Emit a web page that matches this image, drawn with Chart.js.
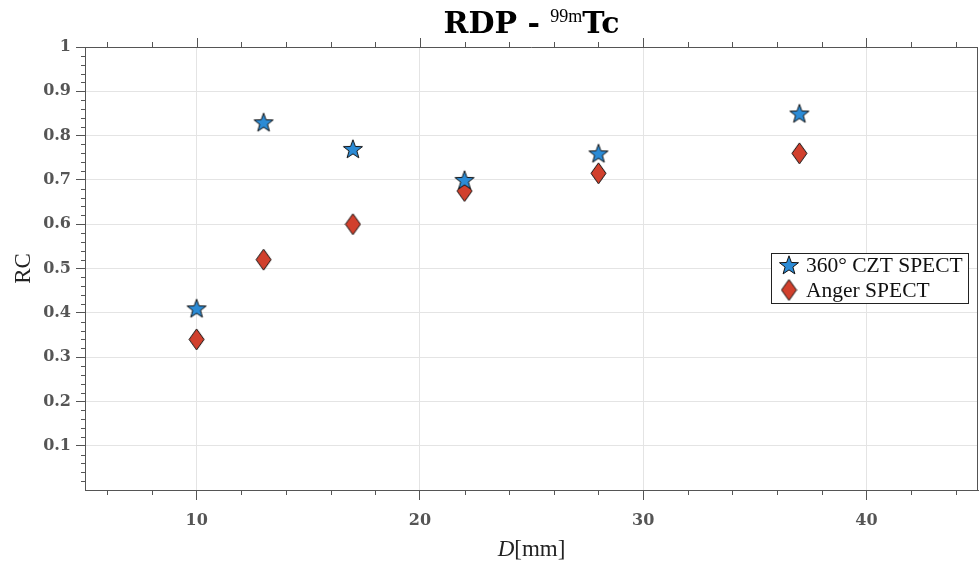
<!DOCTYPE html>
<html>
<head>
<meta charset="utf-8">
<script src="https://cdn.jsdelivr.net/npm/chart.js@4"></script>
<style>
  html, body { margin: 0; padding: 0; background: #fff; }
  canvas { display: block; }
</style>
</head>
<body>
<canvas id="rcChart" width="979" height="562"></canvas>
<script>
'use strict';

// Data
const diameters = [10, 13, 17, 22, 28, 37];          // D [mm]
const cztRC     = [0.41, 0.83, 0.77, 0.70, 0.76, 0.85];
const angerRC   = [0.34, 0.52, 0.60, 0.675, 0.715, 0.76];
const seriesNames = ['360\u00B0 CZT SPECT', 'Anger SPECT'];
const xTicks = [10, 20, 30, 40];
const yTicks = [0.1, 0.2, 0.3, 0.4, 0.5, 0.6, 0.7, 0.8, 0.9, 1];

const AXIS = '#555555';
const GRID = '#e4e4e4';
const BLUE = '#2b8bd6';
const RED  = '#d1402d';

// marker images
function starMarker() {
  const c = document.createElement('canvas');
  c.width = 22; c.height = 22;
  const g = c.getContext('2d');
  const cx = 11, cy = 11.8, ro = 10, ri = 4.1;
  g.beginPath();
  for (let i = 0; i < 10; i++) {
    const r = i % 2 === 0 ? ro : ri;
    const a = -Math.PI / 2 + i * Math.PI / 5;
    const px = cx + r * Math.cos(a), py = cy + r * Math.sin(a);
    i === 0 ? g.moveTo(px, py) : g.lineTo(px, py);
  }
  g.closePath();
  g.fillStyle = BLUE; g.fill();
  g.lineWidth = 1; g.strokeStyle = '#111'; g.stroke();
  return c;
}
function diamondMarker() {
  const c = document.createElement('canvas');
  c.width = 17; c.height = 23;
  const g = c.getContext('2d');
  g.beginPath();
  g.moveTo(8.5, 1); g.lineTo(16, 11.5); g.lineTo(8.5, 22); g.lineTo(1, 11.5);
  g.closePath();
  g.fillStyle = RED; g.fill();
  g.lineWidth = 1; g.strokeStyle = '#111'; g.stroke();
  return c;
}
const starImg = starMarker();
const diamondImg = diamondMarker();

// minor ticks, box, title, axis labels, legend
const decorations = {
  id: 'decorations',
  afterDraw(chart) {
    const ctx = chart.ctx;
    const a = chart.chartArea;
    const xs = chart.scales.x, ys = chart.scales.y;
    ctx.save();
    ctx.strokeStyle = AXIS;
    ctx.lineWidth = 1;
    ctx.beginPath();
    // top and right box lines
    ctx.moveTo(a.left, Math.round(a.top) + 0.5); ctx.lineTo(a.right, Math.round(a.top) + 0.5);
    ctx.moveTo(Math.round(a.right) - 0.5, a.top); ctx.lineTo(Math.round(a.right) - 0.5, a.bottom);
    // x minor ticks (bottom & top), top major ticks
    for (let v = 6; v <= 44; v += 2) {
      const px = Math.round(xs.getPixelForValue(v)) + 0.5;
      const len = v % 10 === 0 ? 9 : 5;
      if (v % 10 !== 0) { ctx.moveTo(px, a.bottom); ctx.lineTo(px, a.bottom + len); }
      ctx.moveTo(px, a.top); ctx.lineTo(px, a.top - len);
    }
    // y minor ticks
    for (let i = 1; i < 50; i++) {
      if (i % 5 === 0) continue;
      const py = Math.round(ys.getPixelForValue(i / 50)) + 0.5;
      ctx.moveTo(a.left, py); ctx.lineTo(a.left - 4, py);
    }
    ctx.stroke();

    // title
    const cx = (a.left + a.right) / 2;
    const boldF = 'bold 30px "DejaVu Serif"';
    const supF = '18px "Liberation Serif"';
    ctx.fillStyle = '#000';
    ctx.textBaseline = 'alphabetic';
    ctx.textAlign = 'left';
    ctx.font = boldF; const w1 = ctx.measureText('RDP - ').width; const w3 = ctx.measureText('Tc').width;
    ctx.font = supF; const w2 = ctx.measureText('99m').width;
    let tx = cx - (w1 + w2 + w3) / 2;
    ctx.font = boldF; ctx.fillText('RDP - ', tx, 33); tx += w1;
    ctx.font = supF; ctx.fillText('99m', tx, 22); tx += w2;
    ctx.font = boldF; ctx.fillText('Tc', tx, 33);

    // axis titles
    ctx.fillStyle = '#222';
    const itF = 'italic 23px "Liberation Serif"';
    const rgF = '23px "Liberation Serif"';
    ctx.font = itF; const wd = ctx.measureText('D').width;
    ctx.font = rgF; const wr = ctx.measureText('[mm]').width;
    const ax = cx - (wd + wr) / 2;
    ctx.font = itF; ctx.fillText('D', ax, 556);
    ctx.font = rgF; ctx.fillText('[mm]', ax + wd, 556);
    ctx.save();
    ctx.translate(30, (a.top + a.bottom) / 2);
    ctx.rotate(-Math.PI / 2);
    ctx.textAlign = 'center';
    ctx.fillText('RC', 0, 0);
    ctx.restore();

    // legend
    ctx.fillStyle = '#fff';
    ctx.fillRect(771, 253, 197, 50);
    ctx.strokeStyle = '#222';
    ctx.strokeRect(771.5, 253.5, 197, 50);
    ctx.drawImage(starImg, 789 - 11, 265 - 11);
    ctx.drawImage(diamondImg, 789 - 8.5, 290 - 11.5);
    ctx.fillStyle = '#111';
    ctx.font = '21.5px "Liberation Serif"';
    ctx.fillText(seriesNames[0], 806, 272);
    ctx.fillText(seriesNames[1], 806, 297);
    ctx.restore();
  },
};

const tickFont = { family: 'DejaVu Serif', weight: 'bold', size: 16 };

new Chart(document.getElementById('rcChart').getContext('2d'), {
  type: 'scatter',
  data: {
    datasets: [
      {
        label: seriesNames[0],
        data: diameters.map((d, i) => ({ x: d, y: cztRC[i] })),
        pointStyle: starImg,
        backgroundColor: BLUE,
      },
      {
        label: seriesNames[1],
        data: diameters.map((d, i) => ({ x: d, y: angerRC[i] })),
        pointStyle: diamondImg,
        backgroundColor: RED,
      },
    ],
  },
  options: {
    responsive: false,
    animation: false,
    layout: { autoPadding: false, padding: { top: 47, right: 1, left: 0, bottom: 0 } },
    plugins: {
      legend: { display: false },
      title: { display: false },
      tooltip: { enabled: false },
    },
    scales: {
      x: {
        type: 'linear',
        min: 5, max: 45,
        afterBuildTicks: (s) => { s.ticks = xTicks.map((v) => ({ value: v })); },
        afterFit: (s) => { s.height = 72; s.paddingLeft = 0; s.paddingRight = 0; },
        ticks: { font: tickFont, color: AXIS, padding: 11, maxRotation: 0 },
        grid: { color: GRID, tickColor: AXIS, tickLength: 10 },
        border: { color: AXIS, width: 1 },
      },
      y: {
        type: 'linear',
        min: 0, max: 1,
        afterBuildTicks: (s) => { s.ticks = yTicks.map((v) => ({ value: v })); },
        afterFit: (s) => { s.width = 85; s.paddingTop = 0; s.paddingBottom = 0; },
        ticks: {
          font: tickFont, color: AXIS, padding: 5,
          callback: (v) => (v === 1 ? '1' : v.toFixed(1)),
        },
        grid: { color: GRID, tickColor: AXIS, tickLength: 9 },
        border: { color: AXIS, width: 1 },
      },
    },
  },
  plugins: [decorations],
});
</script>
</body>
</html>
